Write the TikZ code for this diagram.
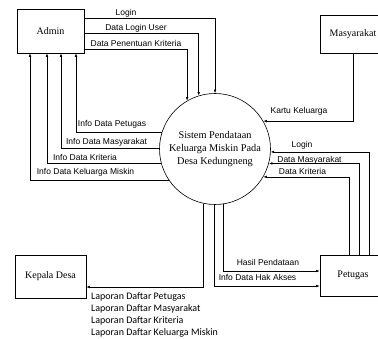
\documentclass[tikz,border=0pt]{standalone}
\usepackage{fontspec}
\setmainfont{Liberation Serif}
\newfontfamily\arialfont{Liberation Sans}
\newfontfamily\calibrifont{Carlito}
\usetikzlibrary{positioning, arrows.meta}

\begin{document}
\begin{tikzpicture}[x=1pt, y=-1pt, >={Latex[length=3.5pt,width=2.6pt]},
        entity/.style={draw, line width=0.6pt, font=\fontsize{10}{12}\selectfont},
        flow/.style={->, line width=0.6pt},
        lbl/.style={font=\arialfont\fontsize{8.5}{10}\selectfont, inner sep=0pt}]
        \useasboundingbox (0,0) rectangle (378,339);
        \clip (0,0) rectangle (378,339);

        % Nodes
        \node (Adm) [entity, minimum width=67pt, minimum height=44pt] at (50.5,31) {Admin};
        \node (Msy) [entity, minimum width=66pt, minimum height=38pt] at (353,34) {Masyarakat};
        \node (Sys) [circle, draw, line width=0.6pt, minimum size=111pt, align=center,
            font=\fontsize{10.3}{13.3}\selectfont] at (215,149)
            {Sistem Pendataan\\Keluarga Miskin Pada\\Desa Kedungneng};
        \node (Kep) [entity, minimum width=71pt, minimum height=43pt] at (50.5,276.5) {Kepala Desa};
        \node (Ptg) [entity, minimum width=66pt, minimum height=41pt] at (353,275.5) {Petugas};

        % Labels
        \node (lLogA) [lbl] at (126,13.3) {Login};
        \node (lLogUser) [lbl] at (136,28) {Data Login User};
        \node (lKrit) [lbl] at (136,43.5) {Data Penentuan Kriteria};
        \node (lIPtg) [lbl] at (112,124) {Info Data Petugas};
        \node (lIMsy) [lbl] at (106.5,142.5) {Info Data Masyarakat};
        \node (lIKrit) [lbl] at (85,157) {Info Data Kriteria};
        \node (lIKel) [lbl] at (85.5,172.5) {Info Data Keluarga Miskin};
        \node (lKK) [lbl] at (299,111) {Kartu Keluarga};
        \node (lLogB) [lbl] at (302,145) {Login};
        \node (lDMsy) [lbl] at (309.5,160) {Data Masyarakat};
        \node (lDKrit) [lbl] at (302.5,171.5) {Data Kriteria};
        \node (lHasil) [lbl] at (268,262) {Hasil Pendataan};
        \node (lHak) [lbl] at (257.5,277.5) {Info Data Hak Akses};
        \node (lLap) [anchor=north west, align=left, inner sep=0pt,
            font=\calibrifont\fontsize{10}{12.3}\selectfont] at (91,292)
            {Laporan Daftar Petugas\\Laporan Daftar Masyarakat\\Laporan Daftar Kriteria\\Laporan Daftar Keluarga Miskin};

        % Arrows
        \draw[flow] ([yshift=12.7pt]Adm.east) -| (Sys.90);
        \draw[flow] ([yshift=-2pt]Adm.east) -| (Sys.107.8);
        \draw[flow] ([yshift=-18.3pt]Adm.east) -| (Sys.120.3);

        \draw[flow] (Sys.163.2) -| ([xshift=25.5pt]Adm.south);
        \draw[flow] (Sys.179) -| ([xshift=10.5pt]Adm.south);
        \draw[flow] (Sys.195.7) -| ([xshift=-3.5pt]Adm.south);
        \draw[flow] (Sys.214) -| ([xshift=-20.5pt]Adm.south);

        \draw[flow] (Msy.south) |- (Sys.30.3);

        \draw[flow] ([xshift=16pt]Ptg.north) |- (Sys.-3.1);
        \draw[flow] ([xshift=6pt]Ptg.north) |- (Sys.-15.7);
        \draw[flow] ([xshift=-4pt]Ptg.north) |- (Sys.-30.3);

        \draw[flow] (Sys.258.6) |- ([yshift=-10.5pt]Kep.east);
        \draw[flow] (Sys.269) |- ([yshift=-10.5pt]Ptg.west);
        \draw[flow] (Sys.279.3) |- ([yshift=4.5pt]Ptg.west);
\end{tikzpicture}
\end{document}
